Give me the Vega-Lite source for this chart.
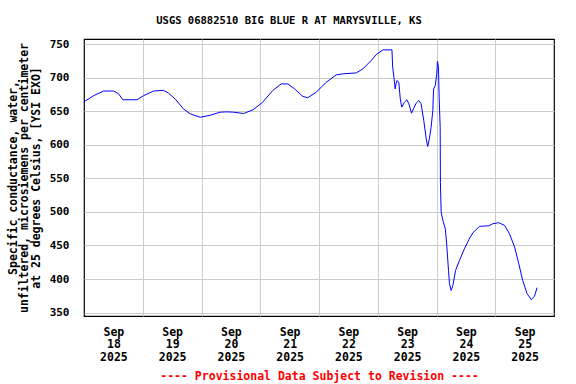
{
  "$schema": "https://vega.github.io/schema/vega-lite/v6.json",
  "autosize": "none",
  "width": 470,
  "height": 277,
  "padding": {"left": 84, "top": 39, "right": 22, "bottom": 68},
  "background": "white",
  "title": {
    "text": "USGS 06882510 BIG BLUE R AT MARYSVILLE, KS",
    "font": "DejaVu Sans Mono",
    "fontSize": 10.5,
    "fontWeight": "bold",
    "color": "black",
    "anchor": "middle",
    "offset": 12,
    "dx": -30
  },
  "config": {
    "view": {"stroke": "black", "strokeWidth": 1.2},
    "axis": {
      "labelFont": "DejaVu Sans Mono",
      "labelFontWeight": "bold",
      "labelColor": "black",
      "titleFont": "DejaVu Sans Mono",
      "titleFontWeight": "bold",
      "titleColor": "black",
      "gridColor": "#cccccc",
      "gridWidth": 1,
      "gridOpacity": 1,
      "domain": false,
      "ticks": false
    }
  },
  "data": {
    "values": [
      {"time": "2025-09-18T00:00:00Z", "value": 664},
      {"time": "2025-09-18T03:54:00Z", "value": 673},
      {"time": "2025-09-18T08:00:00Z", "value": 680},
      {"time": "2025-09-18T12:06:00Z", "value": 680},
      {"time": "2025-09-18T14:06:00Z", "value": 676},
      {"time": "2025-09-18T15:54:00Z", "value": 667},
      {"time": "2025-09-18T21:36:00Z", "value": 667},
      {"time": "2025-09-19T00:18:00Z", "value": 673},
      {"time": "2025-09-19T04:24:00Z", "value": 680},
      {"time": "2025-09-19T08:30:00Z", "value": 681},
      {"time": "2025-09-19T10:30:00Z", "value": 677},
      {"time": "2025-09-19T13:18:00Z", "value": 668},
      {"time": "2025-09-19T16:36:00Z", "value": 653.5},
      {"time": "2025-09-19T19:24:00Z", "value": 646},
      {"time": "2025-09-19T23:30:00Z", "value": 641},
      {"time": "2025-09-20T03:36:00Z", "value": 644},
      {"time": "2025-09-20T07:36:00Z", "value": 648.5},
      {"time": "2025-09-20T10:18:00Z", "value": 649},
      {"time": "2025-09-20T13:06:00Z", "value": 648.5},
      {"time": "2025-09-20T17:12:00Z", "value": 646.5},
      {"time": "2025-09-20T21:00:00Z", "value": 652},
      {"time": "2025-09-21T01:00:00Z", "value": 663.4},
      {"time": "2025-09-21T05:06:00Z", "value": 680.8},
      {"time": "2025-09-21T08:36:00Z", "value": 690.7},
      {"time": "2025-09-21T11:18:00Z", "value": 690.5},
      {"time": "2025-09-21T14:00:00Z", "value": 683.3},
      {"time": "2025-09-21T17:24:00Z", "value": 672},
      {"time": "2025-09-21T19:24:00Z", "value": 670},
      {"time": "2025-09-21T22:54:00Z", "value": 678.3},
      {"time": "2025-09-22T02:54:00Z", "value": 693},
      {"time": "2025-09-22T07:00:00Z", "value": 704},
      {"time": "2025-09-22T09:42:00Z", "value": 705.6},
      {"time": "2025-09-22T15:12:00Z", "value": 707},
      {"time": "2025-09-22T17:54:00Z", "value": 713},
      {"time": "2025-09-22T21:18:00Z", "value": 725.4},
      {"time": "2025-09-22T23:24:00Z", "value": 734.4},
      {"time": "2025-09-23T02:06:00Z", "value": 741.3},
      {"time": "2025-09-23T05:48:00Z", "value": 741.3},
      {"time": "2025-09-23T06:06:00Z", "value": 715.5},
      {"time": "2025-09-23T06:36:00Z", "value": 700.6},
      {"time": "2025-09-23T07:06:00Z", "value": 683.3},
      {"time": "2025-09-23T07:30:00Z", "value": 690.8},
      {"time": "2025-09-23T07:54:00Z", "value": 695.7},
      {"time": "2025-09-23T08:36:00Z", "value": 693},
      {"time": "2025-09-23T09:12:00Z", "value": 668.5},
      {"time": "2025-09-23T09:48:00Z", "value": 656},
      {"time": "2025-09-23T10:54:00Z", "value": 663.4},
      {"time": "2025-09-23T11:54:00Z", "value": 667},
      {"time": "2025-09-23T12:42:00Z", "value": 661},
      {"time": "2025-09-23T13:48:00Z", "value": 647},
      {"time": "2025-09-23T14:36:00Z", "value": 653.5},
      {"time": "2025-09-23T15:42:00Z", "value": 662},
      {"time": "2025-09-23T16:48:00Z", "value": 666},
      {"time": "2025-09-23T17:42:00Z", "value": 661},
      {"time": "2025-09-23T18:48:00Z", "value": 636},
      {"time": "2025-09-23T19:48:00Z", "value": 609},
      {"time": "2025-09-23T20:24:00Z", "value": 597.5},
      {"time": "2025-09-23T21:06:00Z", "value": 609},
      {"time": "2025-09-23T21:48:00Z", "value": 626},
      {"time": "2025-09-23T22:30:00Z", "value": 651},
      {"time": "2025-09-23T22:48:00Z", "value": 683},
      {"time": "2025-09-23T23:30:00Z", "value": 688},
      {"time": "2025-09-24T00:06:00Z", "value": 705.6},
      {"time": "2025-09-24T00:24:00Z", "value": 724.4},
      {"time": "2025-09-24T00:48:00Z", "value": 715.5},
      {"time": "2025-09-24T01:06:00Z", "value": 668.5},
      {"time": "2025-09-24T01:30:00Z", "value": 626},
      {"time": "2025-09-24T01:36:00Z", "value": 544},
      {"time": "2025-09-24T01:54:00Z", "value": 499.7},
      {"time": "2025-09-24T02:36:00Z", "value": 487.3},
      {"time": "2025-09-24T03:36:00Z", "value": 475},
      {"time": "2025-09-24T04:12:00Z", "value": 450},
      {"time": "2025-09-24T04:54:00Z", "value": 413},
      {"time": "2025-09-24T05:18:00Z", "value": 393},
      {"time": "2025-09-24T06:00:00Z", "value": 383},
      {"time": "2025-09-24T06:42:00Z", "value": 390.6},
      {"time": "2025-09-24T07:48:00Z", "value": 413},
      {"time": "2025-09-24T09:24:00Z", "value": 428},
      {"time": "2025-09-24T11:24:00Z", "value": 445},
      {"time": "2025-09-24T13:12:00Z", "value": 458.6},
      {"time": "2025-09-24T14:48:00Z", "value": 468.5},
      {"time": "2025-09-24T17:30:00Z", "value": 478.4},
      {"time": "2025-09-24T21:24:00Z", "value": 479.4},
      {"time": "2025-09-24T23:00:00Z", "value": 482.4},
      {"time": "2025-09-25T01:24:00Z", "value": 484},
      {"time": "2025-09-25T03:48:00Z", "value": 480},
      {"time": "2025-09-25T05:48:00Z", "value": 467.6},
      {"time": "2025-09-25T07:54:00Z", "value": 447.6},
      {"time": "2025-09-25T09:36:00Z", "value": 423},
      {"time": "2025-09-25T11:12:00Z", "value": 398},
      {"time": "2025-09-25T13:00:00Z", "value": 378.3},
      {"time": "2025-09-25T14:42:00Z", "value": 369.3},
      {"time": "2025-09-25T16:00:00Z", "value": 374.3},
      {"time": "2025-09-25T17:06:00Z", "value": 387.2}
    ]
  },
  "encoding": {
    "y": {
      "field": "value",
      "type": "quantitative",
      "scale": {"domain": [345, 757.5], "nice": false, "zero": false},
      "axis": {
        "values": [350, 400, 450, 500, 550, 600, 650, 700, 750],
        "grid": true,
        "labelFontSize": 11,
        "labelPadding": 15,
        "title": ["Specific conductance, water,", "unfiltered, microsiemens per centimeter", "at 25 degrees Celsius, [YSI EXO]"],
        "titleFontSize": 11.5,
        "titleLineHeight": 11.5,
        "titlePadding": 8
      }
    }
  },
  "layer": [
    {
      "mark": {"type": "line", "color": "#0000ff", "strokeWidth": 1, "clip": true},
      "encoding": {
        "x": {
          "field": "time",
          "type": "temporal",
          "scale": {"type": "utc", "domain": [{"year": 2025, "month": 9, "date": 18, "utc": true}, {"year": 2025, "month": 9, "date": 26, "utc": true}], "nice": false},
          "axis": {
            "orient": "bottom",
            "values": [
              {"year": 2025, "month": 9, "date": 19, "utc": true},
              {"year": 2025, "month": 9, "date": 20, "utc": true},
              {"year": 2025, "month": 9, "date": 21, "utc": true},
              {"year": 2025, "month": 9, "date": 22, "utc": true},
              {"year": 2025, "month": 9, "date": 23, "utc": true},
              {"year": 2025, "month": 9, "date": 24, "utc": true},
              {"year": 2025, "month": 9, "date": 25, "utc": true}
            ],
            "grid": true,
            "labels": false,
            "title": null
          }
        }
      }
    },
    {
      "mark": {"type": "line", "opacity": 0},
      "encoding": {
        "x": {
          "field": "time",
          "type": "temporal",
          "scale": {"type": "utc", "domain": [{"year": 2025, "month": 9, "date": 18, "utc": true}, {"year": 2025, "month": 9, "date": 26, "utc": true}], "nice": false},
          "axis": {
            "orient": "bottom",
            "values": [
              {"year": 2025, "month": 9, "date": 18, "hours": 12, "utc": true},
              {"year": 2025, "month": 9, "date": 19, "hours": 12, "utc": true},
              {"year": 2025, "month": 9, "date": 20, "hours": 12, "utc": true},
              {"year": 2025, "month": 9, "date": 21, "hours": 12, "utc": true},
              {"year": 2025, "month": 9, "date": 22, "hours": 12, "utc": true},
              {"year": 2025, "month": 9, "date": 23, "hours": 12, "utc": true},
              {"year": 2025, "month": 9, "date": 24, "hours": 12, "utc": true},
              {"year": 2025, "month": 9, "date": 25, "hours": 12, "utc": true}
            ],
            "grid": false,
            "labelExpr": "[utcFormat(datum.value, '%b'), utcFormat(datum.value, '%d'), utcFormat(datum.value, '%Y')]",
            "labelFontSize": 11.5,
            "labelLineHeight": 12.7,
            "labelPadding": 10,
            "labelFlush": false,
            "labelOverlap": false,
            "title": "---- Provisional Data Subject to Revision ----",
            "titleColor": "#ff0000",
            "titleFontSize": 11.5,
            "titlePadding": 8
          }
        }
      }
    }
  ],
  "resolve": {"axis": {"x": "independent"}}
}
